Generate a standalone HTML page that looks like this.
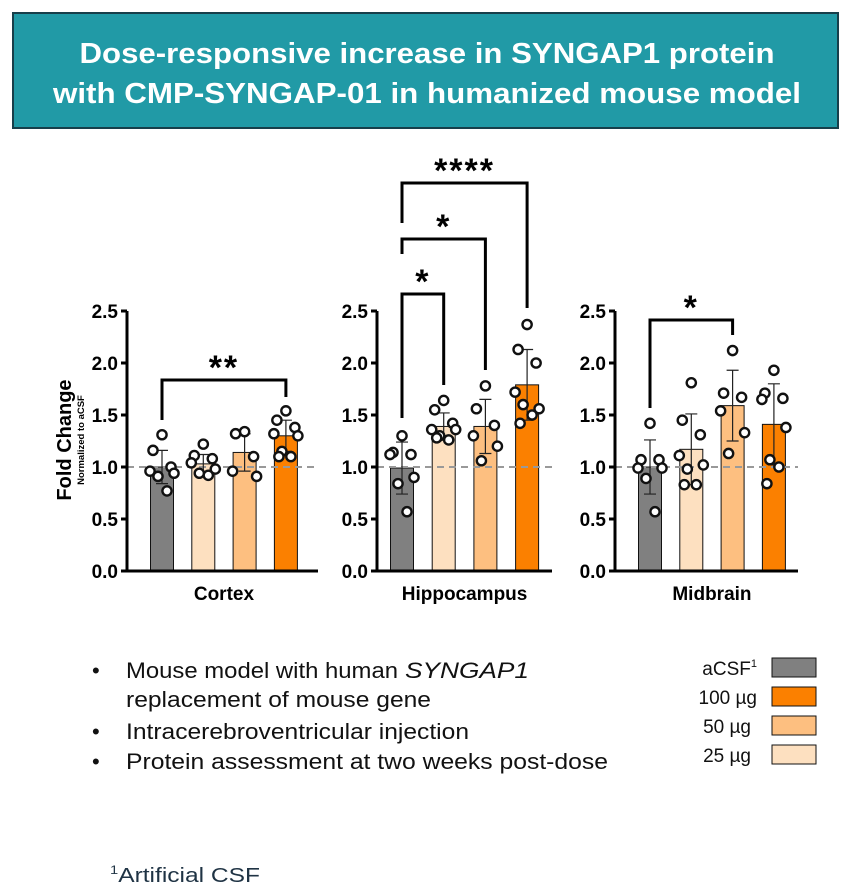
<!DOCTYPE html>
<html><head><meta charset="utf-8"><style>
html,body{margin:0;padding:0;background:#fff;}
svg{display:block;font-family:"Liberation Sans",Arial,sans-serif;}
</style></head><body>
<svg id="chart" width="854" height="892" viewBox="0 0 854 892" xmlns="http://www.w3.org/2000/svg">
<rect x="13" y="13" width="825" height="115" fill="#219aa6" stroke="#173f4a" stroke-width="2"/>
<text x="427" y="63" text-anchor="middle" fill="#fff" font-weight="bold" font-size="29" textLength="695" lengthAdjust="spacingAndGlyphs">Dose-responsive increase in SYNGAP1 protein</text>
<text x="427" y="103" text-anchor="middle" fill="#fff" font-weight="bold" font-size="29" textLength="748" lengthAdjust="spacingAndGlyphs">with CMP-SYNGAP-01 in humanized mouse model</text>

<g>
<text x="71" y="440" transform="rotate(-90 71 440)" text-anchor="middle" font-weight="bold" font-size="20">Fold Change</text>
<text x="84" y="440" transform="rotate(-90 84 440)" text-anchor="middle" font-weight="bold" font-size="9.5">Normalized to aCSF</text>
</g>
<g id="panels"></g>

<g font-size="22" fill="#111">
<text x="92" y="678">•</text>
<text x="126" y="678" textLength="272" lengthAdjust="spacingAndGlyphs">Mouse model with human</text>
<text x="405" y="678" font-style="italic" textLength="124" lengthAdjust="spacingAndGlyphs">SYNGAP1</text>
<text x="126" y="707" textLength="305" lengthAdjust="spacingAndGlyphs">replacement of mouse gene</text>
<text x="92" y="739">•</text>
<text x="126" y="739" textLength="343" lengthAdjust="spacingAndGlyphs">Intracerebroventricular injection</text>
<text x="92" y="769">•</text>
<text x="126" y="769" textLength="482" lengthAdjust="spacingAndGlyphs">Protein assessment at two weeks post-dose</text>
</g>

<g font-size="19" fill="#111">
<g><text x="757" y="675" text-anchor="end">aCSF<tspan font-size="11" dy="-8">1</tspan></text><rect x="772" y="658" width="44" height="19" fill="#808080" stroke="#111"/></g>
<g><text x="757" y="704" text-anchor="end">100 µg</text><rect x="772" y="687" width="44" height="19" fill="#fb8000" stroke="#111"/></g>
<g><text x="751" y="733" text-anchor="end">50 µg</text><rect x="772" y="716" width="44" height="19" fill="#fdbf80" stroke="#111"/></g>
<g><text x="751" y="762" text-anchor="end">25 µg</text><rect x="772" y="745" width="44" height="19" fill="#fde0c0" stroke="#111"/></g>
</g>

<text x="110" y="882" font-size="20" fill="#1f3344" textLength="150" lengthAdjust="spacingAndGlyphs"><tspan font-size="12" dy="-8">1</tspan><tspan dy="8">Artificial CSF</tspan></text>
</svg>
<script>
const regions = ["Cortex","Hippocampus","Midbrain"];
const groups = ["aCSF","25 µg","50 µg","100 µg"];
const colors = ["#808080","#fde0c0","#fdbf80","#fb8000"];
const yTicks = [0,0.5,1.0,1.5,2.0,2.5];
const tickLabels = ["0.0","0.5","1.0","1.5","2.0","2.5"];
const meansCortex = [1.00,1.03,1.14,1.30];
const meansHippo = [0.99,1.39,1.39,1.79];
const meansMid = [1.00,1.17,1.59,1.41];
const sdCortex = [0.16,0.09,0.18,0.15];
const sdHippo = [0.25,0.13,0.26,0.34];
const sdMid = [0.26,0.34,0.34,0.39];
const ptsCortex = [[1.31,1.16,1.0,0.96,0.94,0.91,0.77],[1.22,1.11,1.08,1.04,0.98,0.94,0.92],[1.34,1.32,1.10,0.96,0.91],[1.54,1.45,1.38,1.32,1.30,1.15,1.10,1.10]];
const ptsHippo = [[1.30,1.14,1.12,1.12,0.90,0.84,0.57],[1.64,1.55,1.42,1.36,1.36,1.30,1.26,1.28],[1.78,1.56,1.40,1.30,1.20,1.06],[2.37,2.13,2.00,1.72,1.56,1.60,1.50,1.42]];
const ptsMid = [[1.42,1.07,1.07,0.99,0.99,0.89,0.57],[1.81,1.45,1.31,1.11,1.02,0.98,0.83,0.83],[2.12,1.71,1.67,1.54,1.33,1.13],[1.93,1.71,1.66,1.65,1.38,1.07,1.00,0.84]];
const sigCortex = [["**",0,3]];
const sigHippo = [["*",0,1],["*",0,2],["****",0,3]];
const sigMid = [["*",0,2]];

const NS="http://www.w3.org/2000/svg";
const root=document.getElementById('panels');
function mk(tag,attrs,parent){const e=document.createElementNS(NS,tag);for(const k in attrs)e.setAttribute(k,attrs[k]);(parent||root).appendChild(e);return e;}
const layout=[{ax:127,x0:162,step:41.3,xEnd:318,sigTop:[380],sigDrop:[[420,397]]},
 {ax:377,x0:402,step:41.7,xEnd:552,sigTop:[294,239,183],sigDrop:[[418,385],[254,370],[223,308]]},
 {ax:615,x0:650,step:41.3,xEnd:798,sigTop:[320],sigDrop:[[408,335]]}];
const allMeans=[meansCortex,meansHippo,meansMid],allSd=[sdCortex,sdHippo,sdMid],allPts=[ptsCortex,ptsHippo,ptsMid],allSig=[sigCortex,sigHippo,sigMid];
const y0=571,yPer=104;
function yScale(v){return y0-v*yPer;}
const jit=[0,-9,9,-12,12,-4,5,-7];
layout.forEach((L,p)=>{
  const g=mk('g',{});
  
  
  const xs=i=>L.x0+i*L.step;
  allMeans[p].forEach((m,i)=>{
    const b=mk('rect',{x:xs(i)-11.5,y:yScale(m),width:23,height:y0-yScale(m),fill:colors[i],stroke:'#111','stroke-width':1},g);
    
    
  });
  const dl=mk('line',{x1:L.ax,x2:L.xEnd,y1:yScale(1),y2:yScale(1),stroke:'#999','stroke-width':2,'stroke-dasharray':'7,5'},g);
  
  
  allMeans[p].forEach((m,i)=>{
    const s=allSd[p][i],x=xs(i);
    const e=mk('path',{d:`M${x},${yScale(m-s)}V${yScale(m+s)}M${x-6},${yScale(m+s)}H${x+6}M${x-6},${yScale(m-s)}H${x+6}`,stroke:'#222','stroke-width':1.2,fill:'none'},g);
    
    
    allPts[p][i].forEach((v,k)=>{
      const c=mk('circle',{cx:x+jit[k%jit.length],cy:yScale(v),r:4.6,fill:'#fff',stroke:'#111','stroke-width':2.4},g);
      
      
    });
  });
  const ax=mk('path',{d:`M${L.ax},${yScale(2.5)}V${y0}H${L.xEnd}`,stroke:'#000','stroke-width':3,fill:'none'},g);
  
  
  yTicks.forEach((t,k)=>{
    mk('line',{x1:L.ax-6,x2:L.ax,y1:yScale(t),y2:yScale(t),stroke:'#000','stroke-width':3},g);
    const tl=mk('text',{x:L.ax-9,y:yScale(t)+7,'text-anchor':'end','font-weight':'bold','font-size':19},g);
    tl.textContent=tickLabels[k];
    
    
  });
  const xl=mk('text',{x:(L.x0+xs(3))/2,y:600,'text-anchor':'middle','font-weight':'bold','font-size':19},g);
  xl.textContent=regions[p];
  
  
  allSig[p].forEach((s,k)=>{
    const top=L.sigTop[k],d=L.sigDrop[k],xa=xs(s[1]),xb=xs(s[2]);
    const br=mk('path',{d:`M${xa},${d[0]}V${top}H${xb}V${d[1]}`,stroke:'#000','stroke-width':3,fill:'none'},g);
    
    
    const st=mk('text',{x:(xa+xb)/2,y:top-1,'text-anchor':'middle','font-weight':'bold','font-size':34,'letter-spacing':'2'},g);
    st.textContent=s[0];
    
    
  });
});
</script>
</body></html>
